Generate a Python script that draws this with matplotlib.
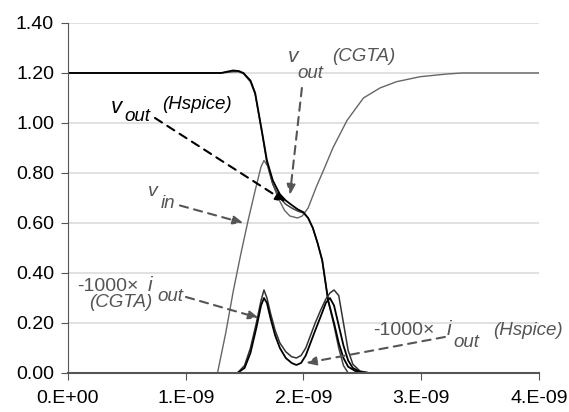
import numpy as np
import matplotlib
matplotlib.use('Agg')
import matplotlib.pyplot as plt

plt.rcParams['font.family'] = ['Liberation Sans', 'DejaVu Sans']

# time in ns
t_vin = [0.0, 1.27, 1.34, 1.405, 1.47, 1.53, 1.59, 1.64, 1.665, 1.70, 1.73, 1.78, 1.84,
         1.885, 1.95, 1.99, 2.04, 2.11, 2.17, 2.25, 2.37, 2.51, 2.65, 2.79, 2.99, 3.22, 3.35, 4.0]
vin = [0.0, 0.0, 0.16, 0.33, 0.48, 0.61, 0.73, 0.825, 0.85, 0.825, 0.77, 0.705, 0.65,
       0.628, 0.62, 0.628, 0.66, 0.745, 0.81, 0.90, 1.01, 1.10, 1.14, 1.165, 1.185, 1.196, 1.2, 1.2]

t_vout = [0.0, 1.30, 1.40, 1.45, 1.49, 1.55, 1.59, 1.62, 1.65, 1.69, 1.74, 1.80, 1.85, 1.90,
          1.95, 2.00, 2.04, 2.08, 2.12, 2.16, 2.21, 2.26, 2.30, 2.34, 2.38, 2.44, 2.50, 4.0]
vout_hspice = [1.2, 1.2, 1.21, 1.208, 1.2, 1.17, 1.12, 1.04, 0.96, 0.85, 0.77, 0.715, 0.69, 0.672,
               0.655, 0.643, 0.62, 0.58, 0.52, 0.45, 0.29, 0.2, 0.12, 0.06, 0.025, 0.008, 0.0, 0.0]
vout_cgta = [1.2, 1.2, 1.205, 1.205, 1.198, 1.165, 1.115, 1.035, 0.955, 0.84, 0.755, 0.70, 0.675, 0.66,
             0.648, 0.64, 0.62, 0.58, 0.52, 0.45, 0.29, 0.19, 0.10, 0.03, 0.0, 0.0, 0.0, 0.0]

t_iout = [0.0, 1.44, 1.50, 1.55, 1.60, 1.64, 1.665, 1.69, 1.72, 1.76, 1.80, 1.85, 1.90, 1.94,
          1.98, 2.02, 2.06, 2.10, 2.15, 2.19, 2.225, 2.26, 2.30, 2.34, 2.38, 2.42, 2.48, 2.56, 4.0]
iout_cgta = [0.0, 0.0, 0.03, 0.10, 0.20, 0.29, 0.332, 0.30, 0.24, 0.17, 0.12, 0.085, 0.065, 0.06,
             0.07, 0.10, 0.15, 0.20, 0.255, 0.295, 0.32, 0.332, 0.31, 0.20, 0.09, 0.035, 0.008, 0.0, 0.0]
iout_hspice = [0.0, 0.0, 0.02, 0.08, 0.18, 0.27, 0.30, 0.28, 0.22, 0.15, 0.10, 0.06, 0.04, 0.032,
               0.04, 0.07, 0.12, 0.17, 0.23, 0.28, 0.30, 0.27, 0.19, 0.11, 0.05, 0.02, 0.005, 0.0, 0.0]

x_ticks = [0, 1e-9, 2e-9, 3e-9, 4e-9]
x_labels = ['0.E+00', '1.E-09', '2.E-09', '3.E-09', '4.E-09']
y_ticks = [0.0, 0.2, 0.4, 0.6, 0.8, 1.0, 1.2, 1.4]

ns = 1e-9
fig = plt.figure(figsize=(5.69, 4.12), dpi=100)
ax = fig.add_axes([0.1195, 0.0947, 0.8275, 0.8495])

ax.plot(np.array(t_vin) * ns, vin, color='#666666', lw=1.0)
ax.plot(np.array(t_vout) * ns, vout_cgta, color='#444444', lw=1.1)
ax.plot(np.array(t_vout) * ns, vout_hspice, color='black', lw=1.3)
ax.plot(np.array(t_iout) * ns, iout_cgta, color='#333333', lw=1.1)
ax.plot(np.array(t_iout) * ns, iout_hspice, color='black', lw=1.3)

ax.set_xlim(0, 4e-9)
ax.set_ylim(0, 1.4)
ax.set_xticks(x_ticks)
ax.set_xticklabels(x_labels)
ax.set_yticks(y_ticks)
ax.set_yticklabels(['%.2f' % v for v in y_ticks])
ax.tick_params(labelsize=14, length=5, pad=5, color='#555555')
ax.tick_params(axis='x', pad=7)
ax.yaxis.grid(True, color='#dcdcdc', lw=1.2)
ax.set_axisbelow(True)
for s in ['top', 'right']:
    ax.spines[s].set_visible(False)
ax.spines['left'].set_color('#555555')
ax.spines['bottom'].set_color('#555555')
ax.spines['bottom'].set_linewidth(1.5)

gray = '#555555'
def lab(x, y, s, size=13.5, color=gray, style='italic'):
    ax.text(x * ns, y, s, fontsize=size, style=style, color=color, ha='left', va='center')

def arrow(x0, y0, x1, y1, color=gray):
    ax.annotate('', xy=(x1 * ns, y1), xytext=(x0 * ns, y0),
                arrowprops=dict(arrowstyle='-|>,head_length=0.6,head_width=0.25',
                                ls=(0, (4, 3)), lw=1.5, color=color, shrinkA=0, shrinkB=0))

# v_out (Hspice)
lab(0.365, 1.06, 'v', 16, 'black'); lab(0.475, 1.024, 'out', 13.5, 'black')
lab(0.798, 1.072, '(Hspice)', 13.5, 'black')
arrow(0.739, 1.02, 1.851, 0.684, 'black')
# v_out (CGTA)
lab(1.868, 1.264, 'v', 15); lab(1.945, 1.196, 'out', 13.5)
lab(2.242, 1.264, '(CGTA)', 13.5)
arrow(1.987, 1.14, 1.885, 0.712)
# v_in
lab(0.68, 0.725, 'v', 14); lab(0.79, 0.676, 'in', 13.5)
arrow(0.951, 0.67, 1.49, 0.6)
# -1000 x i_out (CGTA)
lab(0.076, 0.344, '-1000\u00d7', 14, style='normal'); lab(0.679, 0.348, 'i', 15)
lab(0.756, 0.306, 'out', 13.5)
lab(0.178, 0.28, '(CGTA)', 13.5)
arrow(1.002, 0.304, 1.622, 0.22)
# -1000 x i_out (Hspice)
lab(2.59, 0.168, '-1000\u00d7', 14, style='normal'); lab(3.22, 0.172, 'i', 15)
lab(3.27, 0.12, 'out', 13.5)
lab(3.61, 0.168, '(Hspice)', 13.5)
arrow(3.202, 0.144, 2.021, 0.04)

fig.savefig('out.png', dpi=100)
